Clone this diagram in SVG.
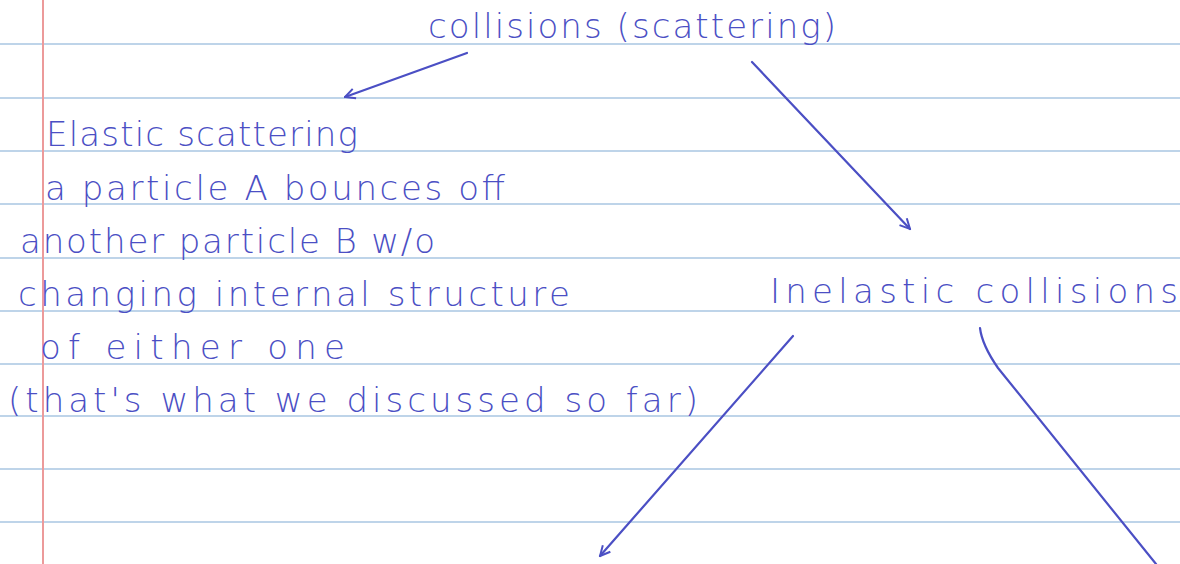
<svg xmlns="http://www.w3.org/2000/svg" width="1180" height="564" viewBox="0 0 1180 564">
<defs>
<style>
.rule{stroke:#a9c6e2;stroke-width:1.6}
.margin{stroke:#ec9a9a;stroke-width:2}
.t{font-family:"DejaVu Sans","Liberation Sans",sans-serif;fill:#4b4fc4;font-size:34px;font-weight:300}
.c{fill:none;stroke:#4b4fc4;stroke-width:2.2;stroke-linecap:round}
</style>
<marker id="ah" viewBox="0 0 12 12" refX="11" refY="6" markerWidth="12" markerHeight="12" markerUnits="userSpaceOnUse" orient="auto">
<path d="M1,1 L11,6 L1,11" fill="none" stroke="#4b4fc4" stroke-width="2"/>
</marker>
</defs>
<rect width="1180" height="564" fill="#ffffff"/>
<g id="paper">
<line class="rule" x1="0" y1="44" x2="1180" y2="44"/>
<line class="rule" x1="0" y1="98" x2="1180" y2="98"/>
<line class="rule" x1="0" y1="151" x2="1180" y2="151"/>
<line class="rule" x1="0" y1="204" x2="1180" y2="204"/>
<line class="rule" x1="0" y1="258" x2="1180" y2="258"/>
<line class="rule" x1="0" y1="311" x2="1180" y2="311"/>
<line class="rule" x1="0" y1="364" x2="1180" y2="364"/>
<line class="rule" x1="0" y1="416" x2="1180" y2="416"/>
<line class="rule" x1="0" y1="469" x2="1180" y2="469"/>
<line class="rule" x1="0" y1="522" x2="1180" y2="522"/>
<line class="margin" x1="43" y1="0" x2="43" y2="564"/>
</g>
<g id="connectors">
<path class="c" d="M467,53 L345,97" marker-end="url(#ah)"/>
<path class="c" d="M752,62 L910,229" marker-end="url(#ah)"/>
<path class="c" d="M793,336 L600,556" marker-end="url(#ah)"/>
<path class="c" d="M980,328 Q982,345 998,368 L1156,564"/>
</g>
<g id="root">
<text class="t" x="428" y="38" textLength="408" lengthAdjust="spacing">collisions (scattering)</text>
</g>
<g id="elastic">
<text class="t" x="46" y="146" textLength="312" lengthAdjust="spacing">Elastic scattering</text>
<text class="t" x="45" y="200" textLength="460" lengthAdjust="spacing">a particle A bounces off</text>
<text class="t" x="20" y="253" textLength="415" lengthAdjust="spacing">another particle B w/o</text>
<text class="t" x="18" y="306" textLength="552" lengthAdjust="spacing">changing internal structure</text>
<text class="t" x="40" y="359" textLength="305" lengthAdjust="spacing">of either one</text>
<text class="t" x="8" y="412" textLength="690" lengthAdjust="spacing">(that's what we discussed so far)</text>
</g>
<g id="inelastic">
<text class="t" x="770" y="303" textLength="408" lengthAdjust="spacing">Inelastic collisions</text>
</g>
</svg>
